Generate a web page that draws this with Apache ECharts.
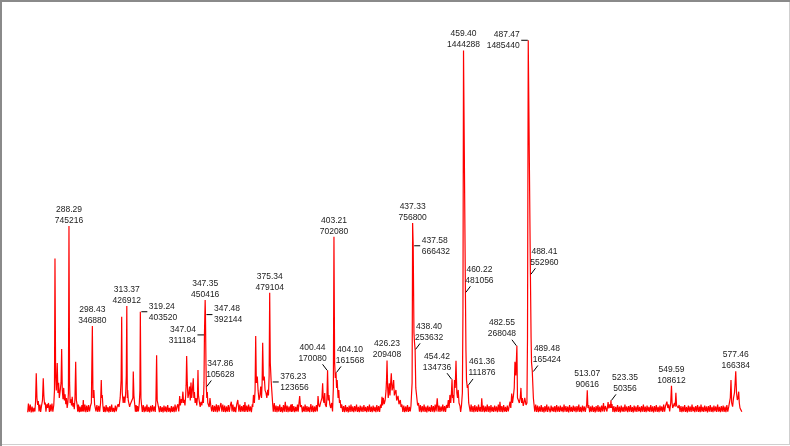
<!DOCTYPE html>
<html><head><meta charset="utf-8">
<script src="https://cdn.jsdelivr.net/npm/echarts@6/dist/echarts.min.js"></script>
<style>html,body{margin:0;padding:0;background:#fff}#c{width:790px;height:446px}</style>
</head><body><div id="c"></div>
<script>
// Profile spectrum: [m/z, intensity in thousands of counts]
const segA = [[270.4,3],[270.7,38],[271.1,5],[271.5,34],[271.9,2],[272.3,26],[272.7,3],[273.1,20],[273.5,6],[273.8,45],[274.1,158],[274.4,60],[274.7,32],[275.0,48],[275.3,6],[275.7,34],[276.0,4],[276.4,29],[276.8,50],[277.14,138],[277.4,70],[277.7,34],[278.0,42],[278.3,5],[278.7,35],[279.0,20],[279.4,40],[279.8,4],[280.2,34],[280.5,6],[280.9,38],[281.3,5],[281.7,32],[282.0,90],[282.22,616],[282.5,150],[282.8,90],[283.2,199],[283.5,80],[283.8,120],[284.1,60],[284.5,90],[284.85,120],[285.12,255],[285.4,90],[285.7,55],[286.0,100],[286.3,50],[286.6,75],[286.9,35],[287.2,60],[287.5,20],[287.8,40],[288.05,80],[288.29,745.216],[288.55,120],[288.8,40],[289.1,55],[289.4,30],[289.7,65],[290.0,25],[290.3,40],[290.6,15],[290.9,60],[291.2,204],[291.5,50],[291.8,34]];
const segB = [[292.1,5],[292.4,34],[292.8,3],[293.1,26],[293.5,4],[293.9,32],[294.2,6],[294.5,52],[294.8,5],[295.2,34],[295.6,3],[296.0,30],[296.4,4],[296.8,32],[297.2,6],[297.6,28],[298.0,40],[298.43,346.88],[298.7,60],[299.1,92],[299.4,34],[299.7,40],[300.0,6],[300.4,32],[300.8,4],[301.2,29],[301.6,5],[302.0,40],[302.3,131],[302.5,60],[302.73,72],[303.0,29],[303.3,4],[303.6,26],[304.0,3],[304.4,32],[304.8,5],[305.2,24],[305.6,2],[306.0,28],[306.4,4],[306.8,34],[307.2,5],[307.6,20],[308.0,3],[308.4,30],[308.8,6],[309.2,26],[309.6,35],[310.0,24],[310.5,60],[310.9,130],[311.15,384],[311.4,80],[311.8,40],[312.15,65],[312.5,40],[312.9,80],[313.15,150],[313.37,426.912],[313.6,60],[313.75,92],[314.0,50],[314.3,52],[314.6,24],[314.9,35],[315.3,29],[315.7,40],[316.0,60],[316.18,165],[316.45,70],[316.8,35],[317.1,5],[317.4,32],[317.7,4],[318.0,28],[318.4,6],[318.8,40],[319.05,90],[319.24,403.52],[319.5,60],[319.8,29]];
const segC = [[320.1,4],[320.5,32],[320.9,3],[321.3,26],[321.7,5],[322.1,34],[322.5,4],[322.9,24],[323.3,2],[323.7,29],[324.1,5],[324.5,32],[324.9,6],[325.3,26],[325.7,4],[326.0,50],[326.3,230],[326.55,50],[326.75,52],[327.1,24],[327.5,3],[327.9,28],[328.3,4],[328.7,24],[329.1,2],[329.5,30],[329.9,5],[330.3,26],[330.7,3],[331.1,32],[331.5,5],[331.9,20],[332.3,2],[332.7,28],[333.1,4],[333.5,26],[333.9,3],[334.3,34],[334.7,5],[335.1,24],[335.5,35],[335.9,6],[336.3,68],[336.6,30],[337.0,55],[337.3,40],[337.7,85],[338.0,40],[338.2,52],[338.6,30],[338.9,70],[339.1,110],[339.33,227],[339.6,120],[339.9,60],[340.3,80],[340.6,105],[340.9,50],[341.2,121],[341.5,60],[341.9,100],[342.2,138],[342.45,60],[342.7,84],[343.0,40],[343.37,60],[343.7,30],[344.0,60],[344.24,171],[344.45,70],[344.68,72],[344.9,40],[345.2,24],[345.54,44],[345.9,30],[346.2,50],[346.4,72],[346.6,40],[346.85,120],[347.04,311.184],[347.35,450.416],[347.48,392.144],[347.7,200],[347.86,105.628],[348.05,60],[348.27,84],[348.5,40],[348.8,44],[349.1,24],[349.45,60],[349.8,29]];
const segD = [[350.2,6],[350.6,32],[351.0,4],[351.4,29],[351.8,5],[352.2,35],[352.6,3],[353.0,32],[353.4,6],[353.8,26],[354.2,40],[354.6,5],[355.0,34],[355.4,4],[355.8,30],[356.2,3],[356.6,26],[357.0,5],[357.4,32],[357.8,4],[358.2,28],[358.7,45],[359.0,6],[359.4,34],[359.8,4],[360.2,24],[360.6,3],[361.0,32],[361.5,52],[362.0,5],[362.4,34],[362.8,4],[363.2,28],[363.6,6],[364.0,32],[364.3,4],[364.6,44],[365.0,5],[365.4,30],[365.8,4],[366.2,34],[366.6,6],[367.0,26],[367.4,3],[367.8,35],[368.0,24],[368.3,72],[368.7,40],[369.0,90],[369.27,307],[369.55,120],[369.96,145],[370.3,90],[370.7,52],[371.1,70],[371.44,105],[371.8,60],[372.05,120],[372.3,280],[372.6,130],[373.0,145],[373.35,90],[373.73,80],[374.1,60],[374.47,92],[374.8,70],[375.1,150],[375.34,479.104],[375.6,200],[375.95,131],[376.23,123.656],[376.6,40],[376.9,5],[377.33,40]];
const segE = [[377.7,4],[378.1,30],[378.5,3],[378.9,28],[379.3,5],[379.7,34],[380.1,4],[380.5,24],[380.9,2],[381.3,32],[381.7,5],[382.1,45],[382.5,4],[382.9,30],[383.3,3],[383.7,26],[384.1,5],[384.5,34],[384.8,4],[385.1,36],[385.4,5],[385.8,28],[386.2,3],[386.6,24],[387.0,6],[387.4,34],[387.7,5],[388.05,40],[388.35,68],[388.7,24],[389.1,32],[389.5,3],[389.9,26],[390.3,5],[390.7,34],[391.1,4],[391.5,28],[391.9,5],[392.3,24],[392.7,3],[393.2,36],[393.6,4],[394.0,30],[394.4,3],[394.8,26],[395.2,5],[395.6,32],[396.0,6],[396.3,68],[396.6,34],[397.0,24],[397.4,40],[397.75,34],[398.0,60],[398.3,118],[398.6,50],[398.9,40],[399.2,80],[399.45,34],[399.63,40],[399.9,24],[400.15,60],[400.44,170.08],[400.75,50],[401.05,72],[401.4,34],[401.8,20],[402.2,40],[402.6,6],[402.95,100],[403.21,702.08],[403.5,200],[403.8,140],[404.1,161.568],[404.35,100],[404.6,131],[405.0,60],[405.3,92],[405.6,40],[405.9,52],[406.2,20]];
const segF = [[406.6,34],[407.0,4],[407.4,28],[407.8,3],[408.2,32],[408.6,5],[409.0,24],[409.4,2],[409.8,30],[410.2,4],[410.6,34],[411.0,5],[411.4,26],[411.8,3],[412.2,28],[412.6,6],[413.0,34],[413.4,4],[413.8,24],[414.2,3],[414.6,30],[415.0,5],[415.4,26],[415.8,4],[416.2,32],[416.6,6],[417.0,24],[417.4,3],[417.8,28],[418.2,5],[418.6,34],[419.0,4],[419.4,26],[419.8,3],[420.2,30],[420.6,6],[421.0,24],[421.4,3],[421.8,32],[422.2,5],[422.6,28],[423.0,4],[423.4,34],[423.7,20],[424.05,65],[424.3,30],[424.6,60],[425.0,35],[425.4,50],[425.8,90],[426.0,130],[426.23,209.408],[426.5,100],[426.75,60],[427.2,118],[427.5,70],[427.8,120],[428.08,158],[428.4,90],[428.7,100],[429.1,131],[429.4,70],[429.7,80],[430.1,92],[430.4,50],[431.0,68],[431.4,35],[431.99,52],[432.3,24],[432.7,34],[433.1,4],[433.5,30],[433.9,3],[434.3,26],[434.7,5],[435.1,32],[435.5,4],[435.9,24],[436.3,6],[436.6,28],[436.84,32],[437.1,120],[437.33,756.8],[437.58,666.432],[437.9,320],[438.15,280],[438.4,253.632],[438.7,100],[439.1,65],[439.5,30],[439.9,40]];
const segG = [[440.3,5],[440.7,32],[441.1,3],[441.5,28],[441.9,5],[442.3,34],[442.7,4],[443.1,26],[443.5,2],[443.9,30],[444.3,6],[444.7,24],[445.1,4],[445.5,32],[445.9,5],[446.3,28],[446.7,3],[447.1,34],[447.5,6],[448.0,59],[448.4,5],[448.8,30],[449.2,4],[449.6,26],[450.0,6],[450.4,34],[450.8,5],[451.2,28],[451.6,4],[452.0,32],[452.4,20],[452.8,52],[453.15,20],[453.5,72],[453.85,40],[454.15,80],[454.42,134.736],[454.65,60],[454.84,72],[455.15,40],[455.5,131],[455.8,100],[456.14,208],[456.5,80],[456.8,60],[457.1,92],[457.45,40],[457.87,28],[458.15,4],[458.5,28],[458.9,80],[459.15,400],[459.4,1444.288],[460.22,481.056],[460.45,250],[460.7,131],[461.05,100],[461.36,111.876],[461.65,40],[461.9,40]];
const segH = [[462.3,5],[462.7,34],[463.1,4],[463.5,28],[463.9,3],[464.3,32],[464.7,5],[465.1,26],[465.5,4],[465.9,34],[466.3,6],[466.7,24],[467.0,4],[467.3,59],[467.7,5],[468.1,30],[468.5,3],[468.9,26],[469.3,5],[469.7,34],[470.1,4],[470.5,28],[470.9,2],[471.3,32],[471.7,5],[472.1,24],[472.5,4],[472.9,30],[473.3,6],[473.7,26],[474.1,3],[474.5,34],[474.9,5],[475.2,45],[475.6,4],[476.0,28],[476.4,3],[476.8,32],[477.2,5],[477.6,24],[478.0,4],[478.4,30],[478.8,6],[479.2,26],[479.58,45],[479.9,20],[480.3,78],[480.65,40],[481.0,65],[481.4,100],[481.7,204],[482.1,150],[482.55,268.048],[482.8,60],[483.17,52],[483.6,40],[484.0,60],[484.3,100],[484.6,40],[484.9,60],[485.3,28],[485.6,40],[485.95,60],[486.5,32],[486.9,40],[487.15,300],[487.47,1485.44],[488.41,552.96],[488.7,300],[488.9,200],[489.2,170],[489.48,165.424],[489.7,60],[489.9,40]];
const segI = [[490.3,5],[490.7,34],[491.1,4],[491.5,30],[491.9,3],[492.3,26],[492.7,5],[493.1,32],[493.5,4],[493.9,24],[494.3,2],[494.7,28],[495.1,5],[495.5,34],[495.9,4],[496.3,26],[496.6,32],[497.0,3],[497.4,30],[497.8,6],[498.2,24],[498.6,4],[499.0,28],[499.4,3],[499.8,32],[500.2,5],[500.6,26],[501.0,4],[501.4,30],[501.8,6],[502.2,24],[502.6,3],[503.0,34],[503.4,5],[503.8,28],[504.2,4],[504.6,26],[505.0,2],[505.4,32],[505.8,5],[506.2,24],[506.6,4],[507.0,30],[507.4,6],[507.8,26],[508.2,3],[508.6,28],[509.0,5],[509.4,34],[509.8,4],[510.2,24],[510.6,3],[511.0,30],[511.4,6],[511.8,26],[512.2,4],[512.5,20],[512.8,32],[513.07,90.616],[513.35,20],[513.7,32]];
const segJ = [[514.1,3],[514.5,26],[514.9,5],[515.3,30],[515.7,4],[516.1,24],[516.5,2],[516.9,28],[517.3,5],[517.7,32],[518.1,4],[518.5,26],[518.9,3],[519.3,30],[519.7,6],[520.1,40],[520.5,5],[520.9,28],[521.2,32],[521.6,6],[522.1,44],[522.4,18],[522.8,34],[523.1,20],[523.35,50.356],[523.55,20],[523.8,36],[524.2,4],[524.6,28],[525.0,3],[525.4,24],[525.8,5],[526.2,32],[526.6,4],[527.0,26],[527.4,2],[527.8,30],[528.2,5],[528.6,24],[529.0,4],[529.4,34],[529.8,6],[530.2,26],[530.6,3],[531.0,28],[531.4,5],[531.8,32],[532.2,4],[532.6,24],[533.0,2],[533.4,30],[533.8,5],[534.2,26],[534.6,4],[535.0,32],[535.4,6],[535.8,24],[536.2,3],[536.6,28],[537.0,5],[537.4,34],[537.8,4],[538.2,26],[538.6,3],[539.0,30],[539.4,6],[539.8,24],[540.2,4],[540.6,32],[541.0,5],[541.4,26],[541.8,2],[542.2,28],[542.6,5],[543.0,32],[543.4,4],[543.8,24],[544.2,3],[544.6,30],[545.0,6],[545.4,26],[545.8,4],[546.2,34],[546.6,5],[547.0,28],[547.6,45],[548.0,20],[548.4,34],[548.8,6],[549.25,40],[549.59,108.612],[549.85,40],[550.1,20],[550.5,30],[550.9,40],[551.2,25],[551.5,81],[551.8,30],[552.1,35],[552.5,20]];
const segK = [[552.9,32],[553.3,4],[553.7,28],[554.1,3],[554.5,26],[554.9,5],[555.3,32],[555.7,4],[556.1,24],[556.5,2],[556.9,30],[557.3,5],[557.7,26],[558.1,4],[558.5,34],[558.9,6],[559.3,24],[559.7,3],[560.1,28],[560.5,5],[560.9,32],[561.3,4],[561.7,26],[562.05,3],[562.4,34],[562.8,5],[563.2,24],[563.6,4],[564.0,30],[564.4,6],[564.8,26],[565.2,2],[565.6,28],[566.0,5],[566.4,32],[566.8,4],[567.2,24],[567.6,3],[568.0,30],[568.4,6],[568.8,26],[569.2,4],[569.6,34],[570.0,5],[570.4,24],[570.8,3],[571.2,28],[571.6,5],[572.0,30],[572.4,4],[572.8,26],[573.2,3],[573.6,32],[574.0,5],[574.4,24],[574.77,30],[575.1,60],[575.4,131],[575.7,40],[576.1,25],[576.5,60],[576.9,80],[577.2,120],[577.46,166.384],[577.8,80],[578.15,52],[578.45,60],[578.74,85],[579.0,40],[579.3,20],[579.7,15],[580.1,5]];

// Annotated peaks
const labelMz = [288.29,298.43,313.37,319.24,347.04,347.35,347.48,347.86,375.34,376.23,400.44,403.21,404.10,426.23,437.33,437.58,438.40,454.42,459.40,460.22,461.36,482.55,487.47,488.41,489.48,513.07,523.35,549.59,577.46];
const labelIntensity = [745216,346880,426912,403520,311184,450416,392144,105628,479104,123656,170080,702080,161568,209408,756800,666432,253632,134736,1444288,481056,111876,268048,1485440,552960,165424,90616,50356,108612,166384];
// Where each annotation sits relative to its peak (style)
const labelPlacement = ['top','top','top','right','left','top','right','ur','top','right','ul','top','ur','top','top','right','ur','ul','top','ur','ur','ul','left','ur','ur','top','ur','top','top'];

const spectrum = [].concat(segA, segB, segC, segD, segE, segF, segG, segH, segI, segJ, segK);
const labelData = labelMz.map((m, i) => [m, labelIntensity[i] / 1000, i]);

const chart = echarts.init(document.getElementById('c'), null, {renderer: 'canvas'});
const FONT = {fontSize: 8.5, fontFamily: '"Liberation Sans", Arial, sans-serif', lineHeight: 11, fill: '#222'};

function renderLabel(params, api) {
  const i = api.value(2);
  const p = api.coord([api.value(0), api.value(1)]);
  const kind = labelPlacement[i];
  const text = labelMz[i].toFixed(2) + '\n' + labelIntensity[i];
  const children = [];
  let tx = p[0], ty = p[1], align = 'center';
  const lineStyle = {stroke: '#000', lineWidth: 1};
  if (kind === 'top') {
    ty = p[1] - 11;
  } else if (kind === 'right') {
    children.push({type: 'line', shape: {x1: p[0] + 1, y1: p[1], x2: p[0] + 7, y2: p[1]}, style: lineStyle});
    tx = p[0] + 8.5; align = 'left';
  } else if (kind === 'left') {
    children.push({type: 'line', shape: {x1: p[0] - 7, y1: p[1], x2: p[0] - 0.5, y2: p[1]}, style: lineStyle});
    tx = p[0] - 8.5; align = 'right';
  } else if (kind === 'ur') {
    children.push({type: 'line', shape: {x1: p[0] + 0.5, y1: p[1], x2: p[0] + 5, y2: p[1] - 6}, style: lineStyle});
    tx = p[0] + 14; ty = p[1] - 17.5;
  } else if (kind === 'ul') {
    children.push({type: 'line', shape: {x1: p[0] - 0.5, y1: p[1], x2: p[0] - 5, y2: p[1] - 6}, style: lineStyle});
    tx = p[0] - 15; ty = p[1] - 17.5;
  }
  children.push({type: 'text', style: Object.assign({text: text, x: tx, y: ty, align: align, verticalAlign: 'middle'}, FONT)});
  return {type: 'group', children: children};
}

chart.setOption({
  animation: false,
  backgroundColor: '#fff',
  grid: {left: 26.8, right: 48.4, top: 3, bottom: 33, show: false},
  xAxis: {type: 'value', min: 270, max: 580, show: false},
  yAxis: {type: 'value', min: 0, max: 1634, show: false},
  series: [
    {
      type: 'line',
      data: spectrum,
      showSymbol: false,
      symbol: 'none',
      sampling: null,
      lineStyle: {color: '#ff0000', width: 1.2},
      z: 2
    },
    {
      type: 'custom',
      data: labelData,
      encode: {x: 0, y: 1},
      renderItem: renderLabel,
      clip: false,
      z: 5
    }
  ],
  graphic: [
    {type: 'rect', shape: {x: 0, y: 0, width: 790, height: 2}, style: {fill: '#8a8a8a'}, silent: true},
    {type: 'rect', shape: {x: 0, y: 0, width: 2, height: 446}, style: {fill: '#8a8a8a'}, silent: true},
    {type: 'rect', shape: {x: 2, y: 444, width: 788, height: 1}, style: {fill: '#cfcfcf'}, silent: true},
    {type: 'rect', shape: {x: 789, y: 2, width: 1, height: 442}, style: {fill: '#cfcfcf'}, silent: true}
  ]
});
</script>
</body></html>
